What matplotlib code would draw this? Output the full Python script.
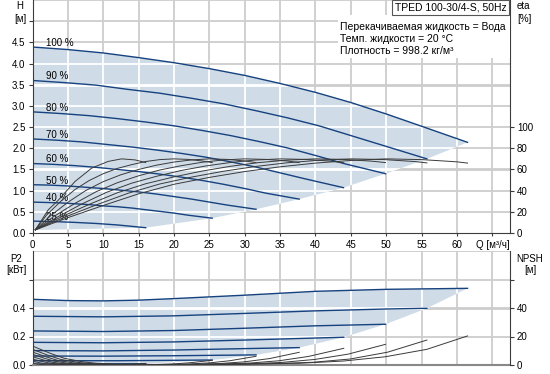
import matplotlib
matplotlib.use('Agg')
import matplotlib.pyplot as plt
from matplotlib.patches import Polygon, Rectangle

plt.rcParams['font.family'] = ['Liberation Sans', 'DejaVu Sans']
plt.rcParams['font.size'] = 7

# ---------------- data ----------------
speed_labels = ['100 %', '90 %', '80 %', '70 %', '60 %', '50 %', '40 %', '25 %']

# Head H [m] vs Q [m3/h]
q_h100 = [0, 5, 10, 15, 20, 25, 30, 35, 40, 45, 50, 55, 61.5]
h_100 = [4.39, 4.33, 4.25, 4.14, 4.02, 3.88, 3.72, 3.53, 3.32, 3.08, 2.81, 2.52, 2.14]
q_h90 = [0, 4.5, 9, 13.5, 18, 22.5, 27, 31.5, 36, 40.5, 45, 49.5, 55.75]
h_90 = [3.60, 3.55, 3.49, 3.39, 3.30, 3.18, 3.05, 2.89, 2.72, 2.53, 2.30, 2.07, 1.75]
q_h80 = [0, 4, 8, 12, 16, 20, 24, 28, 32, 36, 40, 44, 49.9]
h_80 = [2.86, 2.82, 2.77, 2.70, 2.62, 2.53, 2.42, 2.30, 2.16, 2.01, 1.83, 1.64, 1.40]
q_h70 = [0, 3.5, 7, 10.5, 14, 17.5, 21, 24.5, 28, 31.5, 35, 38.5, 43.96]
h_70 = [2.22, 2.19, 2.15, 2.09, 2.03, 1.96, 1.88, 1.79, 1.68, 1.56, 1.42, 1.28, 1.07]
q_h60 = [0, 3, 6, 9, 12, 15, 18, 21, 24, 27, 30, 33, 37.7]
h_60 = [1.64, 1.62, 1.59, 1.55, 1.50, 1.45, 1.39, 1.32, 1.24, 1.15, 1.05, 0.94, 0.80]
q_h50 = [0, 2.5, 5, 7.5, 10, 12.5, 15, 17.5, 20, 22.5, 25, 27.5, 31.6]
h_50 = [1.14, 1.13, 1.11, 1.08, 1.05, 1.01, 0.97, 0.92, 0.86, 0.80, 0.73, 0.66, 0.56]
q_h40 = [0, 2, 4, 6, 8, 10, 12, 14, 16, 18, 20, 22, 25.4]
h_40 = [0.73, 0.72, 0.71, 0.69, 0.67, 0.64, 0.62, 0.59, 0.55, 0.51, 0.47, 0.42, 0.35]
q_h25 = [0, 3, 6, 9, 12, 16]
h_25 = [0.28, 0.27, 0.25, 0.225, 0.19, 0.125]
# lower-left limit of the operating range
q_hmin = [0]
h_min = [0.07]

# Efficiency eta [%]
q_e100 = [0.4, 5, 10, 15, 20, 25, 30, 35, 40, 45, 50, 55, 60, 61.5]
eta_100 = [3, 14.5, 26, 37, 46, 52.5, 58, 62.5, 66, 68.5, 70, 69.3, 67.2, 66]
q_e90 = [0.4, 4.5, 9, 13.5, 18, 22.5, 27, 31.5, 36, 40.5, 45, 49.5, 54, 55.75]
eta_90 = [3, 14.8, 26.5, 37.5, 46.3, 52.8, 58.3, 62.8, 66.3, 68.7, 70, 69.4, 67.5, 66.2]
q_e80 = [0.4, 4, 8, 12, 16, 20, 24, 28, 32, 36, 40, 44, 48, 49.9]
eta_80 = [3, 15, 27, 38, 46.5, 53, 58.5, 63, 66.5, 68.8, 70, 69.5, 67.8, 66.5]
q_e70 = [0.4, 3.5, 7, 10.5, 14, 17.5, 21, 24.5, 28, 31.5, 35, 38.5, 42, 44]
eta_70 = [3, 15, 27.5, 38.5, 47, 53.5, 59, 63.3, 66.6, 68.9, 70, 69.5, 67.9, 66.3]
q_e60 = [0.4, 3, 6, 9, 12, 15, 18, 21, 24, 27, 30, 33, 36, 37.7]
eta_60 = [3, 15.5, 28, 39, 47.5, 54, 59.5, 63.5, 66.8, 69, 70, 69.5, 68, 66.5]
q_e50 = [0.4, 2.5, 5, 7.5, 10, 12.5, 15, 17.5, 20, 22.5, 25, 27.5, 30, 31.6]
eta_50 = [3, 16, 29, 40, 48.5, 55, 60, 64, 67, 69, 70, 69.5, 68, 66.5]
q_e40 = [0.4, 2, 4, 6, 8, 10, 12, 14, 16, 18, 20, 22, 24, 25.4]
eta_40 = [3, 17, 30, 41, 49.5, 56, 61, 64.5, 67.5, 69.3, 70, 69.5, 68, 66.5]
q_e25 = [0.4, 2.24, 3.65, 6, 8.37, 10.7, 12.6, 14.5, 16]
eta_25 = [3, 22, 31, 48.6, 61.3, 67.6, 70, 69, 66.5]

# Power P2 [kW]
q_p100 = [0, 5, 10, 15, 20, 30, 40, 50, 61.5]
p2_100 = [0.461, 0.452, 0.450, 0.455, 0.466, 0.49, 0.517, 0.531, 0.538]
q_p90 = [0, 10, 20, 30, 40, 50, 55.75]
p2_90 = [0.342, 0.338, 0.345, 0.362, 0.38, 0.393, 0.398]
q_p80 = [0, 10, 20, 30, 40, 49.9]
p2_80 = [0.239, 0.235, 0.242, 0.258, 0.275, 0.286]
q_p70 = [0, 10, 20, 30, 44]
p2_70 = [0.159, 0.156, 0.162, 0.175, 0.195]
q_p60 = [0, 10, 20, 30, 37.7]
p2_60 = [0.101, 0.099, 0.105, 0.115, 0.122]
q_p50 = [0, 10, 20, 31.6]
p2_50 = [0.063, 0.062, 0.065, 0.071]
q_p40 = [0, 12, 25.4]
p2_40 = [0.030, 0.030, 0.035]
q_p25 = [0, 16]
p2_25 = [0.007, 0.009]
q_pmin = [0]
p2_min = [0.0]

# NPSH [m]
q_n100 = [0, 2.5, 4.5, 7, 9, 12, 20, 30, 37.7, 44, 49.9, 55.75, 61.5]
npsh_100 = [13.3, 8.2, 4.7, 2.3, 1.2, 0.6, 0.3, 0.6, 1.2, 2.8, 5.8, 11, 20.4]
q_n90 = [0, 2.2, 4, 6.3, 8.1, 10.8, 18, 27, 34, 39.6, 44.9, 50.2, 55.75]
npsh_90 = [11, 6.8, 3.9, 1.9, 1.0, 0.5, 0.25, 0.5, 1.0, 1.9, 4.2, 9.0, 17.5]
q_n80 = [0, 2, 3.6, 5.6, 7.2, 9.6, 16, 24, 30.2, 35.2, 39.9, 44.6, 49.9]
npsh_80 = [9.1, 5.6, 3.2, 1.6, 0.8, 0.4, 0.2, 0.4, 0.8, 1.8, 3.9, 7.6, 14.5]
q_n70 = [0, 1.75, 3.2, 4.9, 6.3, 8.4, 14, 21, 26.4, 30.8, 34.9, 39, 44]
npsh_70 = [7.5, 4.6, 2.6, 1.3, 0.7, 0.35, 0.15, 0.3, 0.6, 1.4, 3.0, 6.0, 11.7]
q_n60 = [0, 1.5, 2.7, 4.2, 5.4, 7.2, 12, 18, 22.6, 26.4, 29.9, 33.5, 37.7]
npsh_60 = [5.8, 3.6, 2.0, 1.0, 0.5, 0.25, 0.1, 0.2, 0.45, 1.0, 2.2, 4.5, 8.9]
q_n50 = [0, 1.25, 2.25, 3.5, 4.5, 6, 10, 15, 18.9, 22, 25, 27.9, 31.6]
npsh_50 = [4.2, 2.6, 1.5, 0.7, 0.35, 0.2, 0.1, 0.15, 0.3, 0.7, 1.5, 3.0, 6.1]
q_n40 = [0, 1, 1.8, 2.8, 3.6, 4.8, 8, 12, 15.1, 17.6, 20, 22.3, 25.4]
npsh_40 = [2.6, 1.6, 0.9, 0.45, 0.25, 0.1, 0.05, 0.1, 0.2, 0.4, 0.8, 1.6, 3.3]
q_n25 = [0, 0.6, 1.1, 1.75, 2.25, 3, 5, 7.5, 9.4, 11, 12.5, 14, 16]
npsh_25 = [1.2, 0.7, 0.4, 0.2, 0.1, 0.05, 0.02, 0.04, 0.08, 0.15, 0.3, 0.6, 1.1]

x_ticks = [0, 5, 10, 15, 20, 25, 30, 35, 40, 45, 50, 55, 60, 65]
x_tick_labels = ['0', '5', '10', '15', '20', '25', '30', '35', '40', '45', '50', '55', '60', 'Q [м³/ч]']
h_ticks = [0.0, 0.5, 1.0, 1.5, 2.0, 2.5, 3.0, 3.5, 4.0, 4.5, 5.0]
h_tick_labels = ['0.0', '0.5', '1.0', '1.5', '2.0', '2.5', '3.0', '3.5', '4.0', '4.5', '']
eta_ticks = [0, 20, 40, 60, 80, 100]
p2_ticks = [0.0, 0.2, 0.4, 0.6]
p2_tick_labels = ['0.0', '0.2', '0.4', '']
npsh_ticks = [0, 20, 40, 60]
npsh_tick_labels = ['0', '20', '40', '']

title_text = 'TPED 100-30/4-S, 50Hz'
info_lines = ['Перекачиваемая жидкость = Вода', 'Темп. жидкости = 20 °C', 'Плотность = 998.2 кг/м³']

head_q = [q_h100, q_h90, q_h80, q_h70, q_h60, q_h50, q_h40, q_h25]
head_h = [h_100, h_90, h_80, h_70, h_60, h_50, h_40, h_25]
eta_q = [q_e100, q_e90, q_e80, q_e70, q_e60, q_e50, q_e40, q_e25]
eta_v = [eta_100, eta_90, eta_80, eta_70, eta_60, eta_50, eta_40, eta_25]
p2_q = [q_p100, q_p90, q_p80, q_p70, q_p60, q_p50, q_p40, q_p25]
p2_v = [p2_100, p2_90, p2_80, p2_70, p2_60, p2_50, p2_40, p2_25]
npsh_q = [q_n100, q_n90, q_n80, q_n70, q_n60, q_n50, q_n40, q_n25]
npsh_v = [npsh_100, npsh_90, npsh_80, npsh_70, npsh_60, npsh_50, npsh_40, npsh_25]

# ---------------- styling ----------------
W, H = 550, 374
SHADE = '#cfdbe7'
BLUE = '#16427f'
GRIDC = '#cdcdcd'
CURVE = '#3a3a3a'
SPINE = '#3c3c3c'

def fx(px):
    return px / W

def fy(py):
    return 1 - py / H

fig = plt.figure(figsize=(5.5, 3.74), dpi=100)
fig.patch.set_facecolor('white')

L, R = 32.5, 510
ax = fig.add_axes([fx(L), fy(233), fx(R) - fx(L), fy(0) - fy(233)])
bx = fig.add_axes([fx(L), fy(365), fx(R) - fx(L), fy(251) - fy(365)])

for a in (ax, bx):
    a.set_xlim(0, 67.5)
    a.set_facecolor('white')
ax.set_ylim(0, 5.5)
bx.set_ylim(0, 0.8)


def envelope(qs, vs, qmin, vmin):
    pts = list(zip(qs[0], vs[0]))
    for q, v in zip(qs[1:], vs[1:]):
        pts.append((q[-1], v[-1]))
    pts += list(zip(qmin, vmin))
    return pts


def grid(a, xs, ys, shade, thick=()):
    for x in xs:
        a.axvline(x, color=GRIDC, lw=1.3, zorder=0.5)
        ln = a.axvline(x, color='white', lw=1.3, zorder=1.5)
        ln.set_clip_path(shade)
    for y in ys:
        lw = 2.0 if y in thick else 1.3
        a.axhline(y, color=GRIDC, lw=lw, zorder=0.5)
        ln = a.axhline(y, color='white', lw=lw, zorder=1.5)
        ln.set_clip_path(shade)


# top panel
shade_top = Polygon(envelope(head_q, head_h, q_hmin, h_min), closed=True,
                    facecolor=SHADE, edgecolor='none', zorder=1)
ax.add_patch(shade_top)
grid(ax, x_ticks[1:], h_ticks[1:] + [5.5], shade_top, thick=(1.5, 3.5))
for q, h, lbl in zip(head_q, head_h, speed_labels):
    ax.plot(q, h, color=BLUE, lw=1.0, zorder=2)
    ax.annotate(lbl, (q[0], h[0]), xytext=(9.5, 0.8), textcoords='offset points',
                ha='left', va='baseline', fontsize=7, zorder=3)

axe = ax.twinx()
axe.set_ylim(0, 220)
for q, e in zip(eta_q, eta_v):
    axe.plot(q, e, color=CURVE, lw=0.7, zorder=2)

# bottom panel
shade_bot = Polygon(envelope(p2_q, p2_v, q_pmin, p2_min), closed=True,
                    facecolor=SHADE, edgecolor='none', zorder=1)
bx.add_patch(shade_bot)
grid(bx, x_ticks[1:], [0.2, 0.4, 0.6, 0.8], shade_bot, thick=(0.4,))
for q, p in zip(p2_q, p2_v):
    bx.plot(q, p, color=BLUE, lw=1.0, zorder=2)

bxn = bx.twinx()
bxn.set_ylim(0, 80)
for q, n in zip(npsh_q, npsh_v):
    bxn.plot(q, n, color=CURVE, lw=0.7, zorder=2)

# ticks / spines
ax.set_xticks(x_ticks)
ax.set_xticklabels(x_tick_labels)
ax.set_yticks(h_ticks)
ax.set_yticklabels(h_tick_labels)
axe.set_yticks(eta_ticks)
axe.set_yticklabels([str(v) for v in eta_ticks])
bx.set_xticks(x_ticks)
bx.tick_params(axis='x', bottom=False, labelbottom=False)
bx.set_yticks(p2_ticks)
bx.set_yticklabels(p2_tick_labels)
bxn.set_yticks(npsh_ticks)
bxn.set_yticklabels(npsh_tick_labels)

for a in (ax, bx):
    a.tick_params(axis='y', direction='out', length=3, width=0.8, color=SPINE, pad=2, labelsize=7)
    a.spines['top'].set_visible(False)
    a.spines['right'].set_visible(False)
    a.spines['left'].set_color(SPINE)
ax.tick_params(axis='x', direction='out', length=2, width=0.8, color=SPINE, pad=3, labelsize=7)
ax.spines['bottom'].set_color(SPINE)
bx.spines['bottom'].set_color('#888888')
bx.spines['bottom'].set_linewidth(1.5)
for a in (axe, bxn):
    for s in ('top', 'left', 'bottom'):
        a.spines[s].set_visible(False)
    a.spines['right'].set_color(SPINE)
    a.tick_params(axis='y', direction='out', length=3, width=0.8, color=SPINE, pad=2, labelsize=7)

# axis titles
fig.text(fx(20), fy(6), 'H', ha='center', va='center', fontsize=7)
fig.text(fx(20), fy(18.5), '[м]', ha='center', va='center', fontsize=7)
fig.text(fx(517), fy(6), 'eta', ha='left', va='center', fontsize=7)
fig.text(fx(517), fy(18.5), '[%]', ha='left', va='center', fontsize=7)
fig.text(fx(16), fy(258.5), 'P2', ha='center', va='center', fontsize=7)
fig.text(fx(16), fy(270), '[кВт]', ha='center', va='center', fontsize=7)
fig.text(fx(529.5), fy(258.5), 'NPSH', ha='center', va='center', fontsize=7)
fig.text(fx(530), fy(270), '[м]', ha='center', va='center', fontsize=7)

# info boxes
fig.patches.append(Rectangle((fx(338), fy(58)), fx(509.5) - fx(338), fy(15) - fy(58),
                             transform=fig.transFigure, facecolor='white', edgecolor='none', zorder=5))
fig.patches.append(Rectangle((fx(392), fy(15)), fx(509) - fx(392), fy(0.5) - fy(15),
                             transform=fig.transFigure, facecolor='white', edgecolor='#555555',
                             lw=0.8, zorder=5))
fig.text(fx(450.5), fy(7.8), title_text, ha='center', va='center', fontsize=7.5, zorder=6)
for i, line in enumerate(info_lines):
    fig.text(fx(340.5), fy(26.7 + 12 * i), line, ha='left', va='center', fontsize=7.5, zorder=6)

fig.savefig('out.png', dpi=100)
